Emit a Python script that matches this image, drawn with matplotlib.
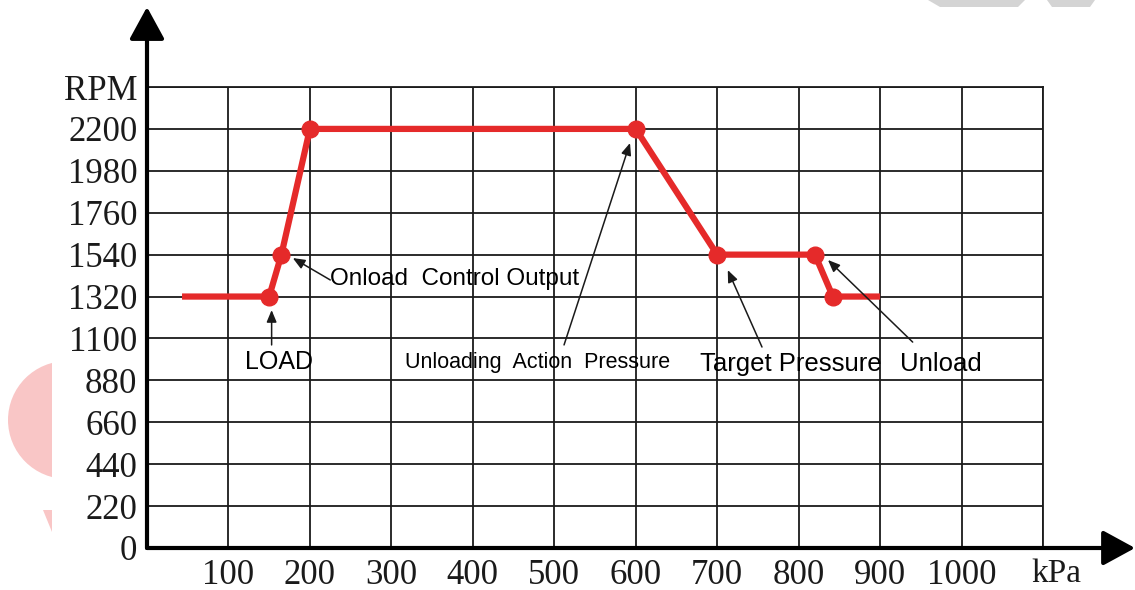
import matplotlib
matplotlib.use("Agg")
import matplotlib.pyplot as plt
from matplotlib.patches import Polygon, Circle, Rectangle

# curve
pressure = [43, 150, 165, 200, 600, 700, 820, 842, 900]
rpm = [1320, 1320, 1540, 2200, 2200, 1540, 1540, 1320, 1320]
# the dots (first and last point have none)
dot_p = [150, 165, 200, 600, 700, 820, 842]
dot_r = [1320, 1540, 2200, 2200, 1540, 1540, 1320]

x_ticks = [100, 200, 300, 400, 500, 600, 700, 800, 900, 1000, 1100]
x_labels = ["100", "200", "300", "400", "500", "600", "700", "800", "900", "1000", ""]
y_ticks = [0, 220, 440, 660, 880, 1100, 1320, 1540, 1760, 1980, 2200, 2420]
y_labels = ["0", "220", "440", "660", "880", "1100", "1320", "1540", "1760", "1980", "2200", "RPM"]

RED = "#e52a2a"
W, H = 1135, 590


def fig_xy(x, y):
    # pixel position -> figure fraction
    return (x / W, 1 - y / H)


fig = plt.figure(figsize=(W / 100, H / 100), dpi=100)
fig.patch.set_facecolor("white")

# watermark bits at the edges of the picture (drawn under the axes)
circ = Circle((0.67, (H - 420) / 100), 0.59, transform=fig.dpi_scale_trans,
              color="#f9c6c6", lw=0, zorder=-3)
fig.patches.append(circ)
fig.patches.append(Rectangle(fig_xy(52, 500), 90 / W, 160 / H, transform=fig.transFigure,
                             color="white", lw=0, zorder=-2))
fig.patches.append(Polygon([fig_xy(43, 510), fig_xy(52, 510), fig_xy(52, 532)],
                           transform=fig.transFigure, color="#f9c6c6", lw=0, zorder=-2))
fig.patches.append(Polygon([fig_xy(928, 0), fig_xy(1025, 0), fig_xy(1018, 7), fig_xy(940, 7)],
                           transform=fig.transFigure, color="#d4d4d4", lw=0, zorder=-2))
fig.patches.append(Polygon([fig_xy(1047, 0), fig_xy(1095, 0), fig_xy(1090, 7), fig_xy(1052, 7)],
                           transform=fig.transFigure, color="#d4d4d4", lw=0, zorder=-2))

ax = fig.add_axes([147 / W, (H - 548) / H, (1043 - 147) / W, (548 - 87) / H])
ax.set_facecolor("none")
ax.set_xlim(0, 1100)
ax.set_ylim(0, 2420)

ax.set_xticks(x_ticks)
ax.set_xticklabels(x_labels)
ax.set_yticks(y_ticks)
ax.set_yticklabels(y_labels)
for lab in ax.get_xticklabels() + ax.get_yticklabels():
    lab.set_family("Liberation Serif")
    lab.set_fontsize(25)
    lab.set_color("#1a1a1a")
ax.tick_params(length=0)
ax.tick_params(axis="y", pad=7)
ax.tick_params(axis="x", pad=8)

ax.grid(True, color="#1a1a1a", lw=1.3)
ax.set_axisbelow(True)
for s in ["top", "right"]:
    ax.spines[s].set_linewidth(1.3)
    ax.spines[s].set_color("#1a1a1a")
for s in ["left", "bottom"]:
    ax.spines[s].set_visible(False)

# axes with arrow heads
arr = dict(arrowstyle="-|>,head_length=1.1,head_width=0.6", lw=3, color="black",
           shrinkA=0, shrinkB=0, mutation_scale=18)
ax.annotate("", xy=(0, 2840), xytext=(0, 0), arrowprops=arr, annotation_clip=False)
ax.annotate("", xy=(1213, 0), xytext=(0, 0), arrowprops=arr, annotation_clip=False)
ax.text(1117, -135, "kPa", family="Liberation Serif", fontsize=24, color="#1a1a1a",
        ha="center", va="center", clip_on=False)

# the curve
ax.plot(pressure, rpm, color=RED, lw=4.5, solid_capstyle="butt", zorder=3)
ax.plot(dot_p, dot_r, "o", color=RED, ms=12, zorder=4)

# notes with arrows
note = dict(arrowstyle="-|>,head_length=0.6,head_width=0.25", lw=1.1, color="#1a1a1a",
            shrinkA=0, shrinkB=0, mutation_scale=12)
sans = "Liberation Sans"
ax.annotate("", xy=(153, 1249), xytext=(153, 1066), arrowprops=note)
ax.text(162, 976, "LOAD", family=sans, fontsize=18, ha="center", va="center")

ax.annotate("", xy=(179, 1522), xytext=(225, 1407), arrowprops=note)
ax.text(225, 1412, "Onload  Control Output", family=sans, fontsize=17.5, ha="left", va="center")

ax.annotate("", xy=(593, 2126), xytext=(512, 1066), arrowprops=note)
ax.text(317, 976, "Unloading  Action  Pressure", family=sans, fontsize=15.5, ha="left", va="center")

ax.annotate("", xy=(713, 1459), xytext=(755, 1055), arrowprops=note)
ax.text(679, 966, "Target Pressure", family=sans, fontsize=18.5, ha="left", va="center")

ax.annotate("", xy=(836, 1512), xytext=(940, 1081), arrowprops=note)
ax.text(924, 966, "Unload", family=sans, fontsize=18.5, ha="left", va="center")

fig.savefig("out.png", dpi=100, facecolor="white")
